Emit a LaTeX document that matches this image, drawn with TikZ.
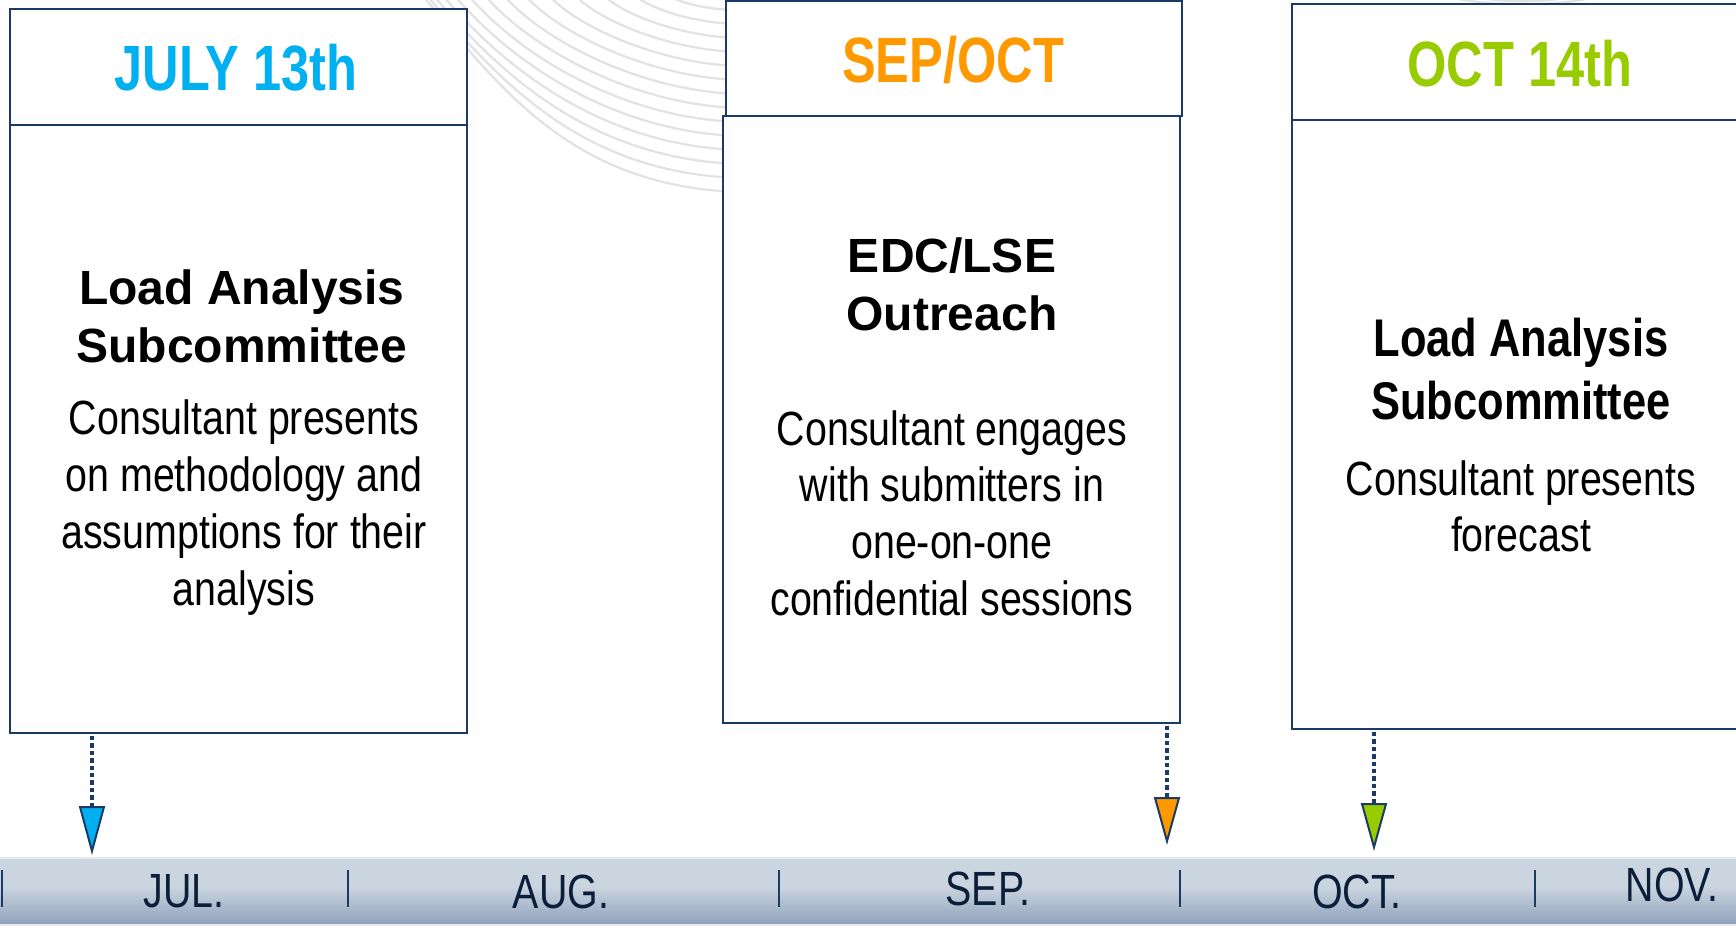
\documentclass[tikz,border=0pt]{standalone}
\usepackage{fontspec}
\setmainfont{Liberation Sans}
\newfontfamily\narrowfont[FakeStretch=0.82]{Liberation Sans}
\newfontfamily\titlefont[FakeStretch=0.79]{Liberation Sans}
\usetikzlibrary{arrows.meta}
\definecolor{navy}{HTML}{1B3A66}
\definecolor{monthtext}{HTML}{0B1F3A}
\definecolor{tcyan}{HTML}{00B0F0}
\definecolor{torange}{HTML}{FF9900}
\definecolor{tgreen}{HTML}{99CC00}
\definecolor{bartop}{HTML}{CBD5E0}
\definecolor{barbot}{HTML}{8EA1BA}
\definecolor{barline}{HTML}{E6EBF1}
\definecolor{arcgray}{HTML}{E2E2E2}
\newcommand{\stacklines}[1]{\begin{tabular}[t]{@{}c@{}}#1\end{tabular}}
\begin{document}
\begin{tikzpicture}[x=0.5pt,y=-0.5pt,
  panel/.style={draw=navy, line width=1.4pt, fill=white, rectangle, inner sep=0pt, outer sep=0pt, anchor=north west},
  titletext/.style={anchor=base, inner sep=0pt, font=\titlefont\bfseries\fontsize{32}{38}\selectfont},
  headtext/.style={anchor=base, inner sep=0pt, font=\bfseries\fontsize{24}{29}\selectfont},
  bodytext/.style={anchor=base, inner sep=0pt, font=\narrowfont\fontsize{24}{28.4}\selectfont},
  narrowhead/.style={anchor=base, inner sep=0pt, font=\narrowfont\bfseries\fontsize{26.5}{31.5}\selectfont},
  monthlabel/.style={anchor=base, inner sep=0pt, text=monthtext, font=\narrowfont\fontsize{24}{28}\selectfont},
  tickline/.style={draw=navy, line width=1pt},
  arcline/.style={draw=arcgray, line width=1.1pt},
  pointer/.style={draw=navy, line width=2pt, dash pattern=on 2.2pt off 1.5pt, shorten <=1.5pt}
]
\useasboundingbox (0,0) rectangle (1736,952);
\fill[white] (0,0) rectangle (1736,952);

% decorative background arcs
\foreach \i in {0,...,13}{
  \pgfmathsetmacro\t{\i/13}
  \pgfmathsetmacro\sx{423+40*\t+206*\t*\t}
  \pgfmathsetmacro\ey{192-182*\t}
  \pgfmathsetmacro\ax{\sx+10+70*(1-\t)}
  \pgfmathsetmacro\ay{2+90*(1-\t)}
  \pgfmathsetmacro\bx{705-130*(1-\t)}
  \pgfmathsetmacro\by{\ey-5*(1-\t)}
  \draw[arcline] (\sx,-4) .. controls (\ax,\ay) and (\bx,\by) .. (740,\ey);
}
\draw[arcline] (1445,-4) .. controls (1485,7) and (1560,7) .. (1600,-4);
\draw[arcline] (1470,-4) .. controls (1500,3) and (1545,3) .. (1575,-4);

% timeline bar
\fill[bartop] (0,858) rectangle (1736,886);
\shade[top color=bartop, bottom color=barbot] (0,886) rectangle (1736,925);
\draw[barline, line width=1pt] (0,858) -- (1736,858);
\draw[barline, line width=1pt] (0,925) -- (1736,925);

% month separators
\foreach \x in {2,348,779,1180,1535}{
  \draw[tickline] (\x,870) -- (\x,907);
}

% month labels
\node[monthlabel] (mjul) at (184,907) {JUL.};
\node[monthlabel] (maug) at (561,908) {AUG.};
\node[monthlabel] (msep) at (988,905) {SEP.};
\node[monthlabel] (moct) at (1357,908) {OCT.};
\node[monthlabel] (mnov) at (1672,901) {NOV.};

% panels
\node[panel, minimum width=228.5pt, minimum height=304pt] (b1b) at (10,125) {};
\node[panel, minimum width=228.5pt, minimum height=58pt] (b1h) at (10,9) {};
\node[panel, minimum width=228.5pt, minimum height=303.5pt] (b2b) at (723,116) {};
\node[panel, minimum width=228pt, minimum height=57.5pt] (b2h) at (726,1) {};
\node[panel, minimum width=240pt, minimum height=304.5pt] (b3b) at (1292,120) {};
\node[panel, minimum width=240pt, minimum height=58pt] (b3h) at (1292,4) {};

% titles
\node[titletext, text=tcyan] (t1) at (236,91) {JULY 13th};
\node[titletext, text=torange] (t2) at (953,82.5) {SEP/OCT};
\node[titletext, text=tgreen] (t3) at (1520,86.5) {OCT 14th};

% box texts
\node[headtext] (h1) at (242,305) {\stacklines{Load Analysis\\Subcommittee}};
\node[bodytext] (d1) at (244,435) {\stacklines{Consultant presents\\on methodology and\\assumptions for their\\analysis}};
\node[headtext] (h2) at (952,273) {\stacklines{EDC/LSE\\Outreach}};
\node[bodytext] (d2) at (952,445) {\stacklines{Consultant engages\\with submitters in\\one-on-one\\confidential sessions}};
\node[narrowhead] (h3) at (1521,357) {\stacklines{Load Analysis\\Subcommittee}};
\node[bodytext] (d3) at (1521,495) {\stacklines{Consultant presents\\forecast}};

% pointers
\coordinate (tip1) at (92,855);
\coordinate (tip2) at (1167,845);
\coordinate (tip3) at (1374,851);
\draw[pointer, -{Triangle[width=13pt, length=24.5pt, fill=tcyan, line width=1pt]}] (tip1 |- b1b.south) -- (tip1);
\draw[pointer, -{Triangle[width=13pt, length=24pt, fill=torange, line width=1pt]}] (tip2 |- b2b.south) -- (tip2);
\draw[pointer, -{Triangle[width=13pt, length=24pt, fill=tgreen, line width=1pt]}] (tip3 |- b3b.south) -- (tip3);
\end{tikzpicture}
\end{document}
